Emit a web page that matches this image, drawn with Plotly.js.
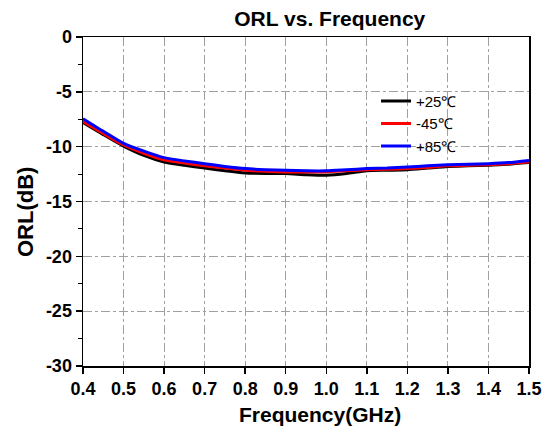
<!DOCTYPE html>
<html>
<head>
<meta charset="utf-8">
<script src="https://cdn.plot.ly/plotly-3.0.1.min.js"></script>
<style>body{margin:0;background:#fff}#chart{width:546px;height:436px}</style>
</head>
<body>
<div id="chart"></div>
<script>
const freq = [0.4,0.45,0.5,0.55,0.6,0.65,0.7,0.75,0.8,0.85,0.9,0.95,1.0,1.05,1.1,1.15,1.2,1.25,1.3,1.35,1.4,1.45,1.5];
const orl25 = [-7.8,-8.9,-9.95,-10.8,-11.4,-11.7,-11.95,-12.2,-12.4,-12.45,-12.45,-12.55,-12.6,-12.45,-12.2,-12.15,-12.1,-11.95,-11.8,-11.75,-11.7,-11.6,-11.45];
const orlM45 = [-7.7,-8.8,-9.85,-10.6,-11.2,-11.5,-11.75,-11.95,-12.15,-12.25,-12.3,-12.3,-12.3,-12.2,-12.1,-12.05,-12.0,-11.9,-11.75,-11.7,-11.65,-11.55,-11.4];
const orl85 = [-7.45,-8.6,-9.7,-10.4,-11.0,-11.3,-11.55,-11.8,-12.0,-12.1,-12.15,-12.2,-12.2,-12.1,-12.0,-11.95,-11.85,-11.75,-11.65,-11.6,-11.55,-11.45,-11.25];
const seriesNames = ['+25℃','-45℃','+85℃'];
const xTicks = [0.4,0.5,0.6,0.7,0.8,0.9,1.0,1.1,1.2,1.3,1.4,1.5];
const xTickText = ['0.4','0.5','0.6','0.7','0.8','0.9','1.0','1.1','1.2','1.3','1.4','1.5'];
const yTicks = [0,-5,-10,-15,-20,-25,-30];
const yTickText = ['0','-5','-10','-15','-20','-25','-30'];
const titleText = 'ORL vs. Frequency';
const xTitle = 'Frequency(GHz)';
const yTitle = 'ORL(dB)';

const colors = ['#000000','#ff0000','#0000ff'];
const ys = [orl25, orlM45, orl85];
const traces = ys.map((y,i)=>({
  x: freq, y: y, name: seriesNames[i], type:'scatter', mode:'lines',
  line:{color:colors[i], width:3, shape:'spline', smoothing:0.6}
}));

const FF = 'Liberation Sans, Arial, sans-serif';
const tickFont = {family:FF, size:18, color:'#000'};
const bold = s => '<b>' + s + '</b>';
const W = 546, H = 436;
const layout = {
  width:W, height:H,
  margin:{l:83, r:17, t:37, b:70},
  paper_bgcolor:'#fff', plot_bgcolor:'#fff',
  title:{text:bold(titleText), x:0.604, xanchor:'center', y:0.958, yanchor:'middle',
    font:{family:FF, size:21, color:'#000'}},
  xaxis:{range:[0.4,1.5], tickvals:xTicks, ticktext:xTickText.map(bold), tickfont:tickFont,
    ticks:'outside', ticklen:6, tickwidth:1.5, tickcolor:'#000',
    showline:true, linecolor:'#000', linewidth:1.5, mirror:true,
    showgrid:true, gridcolor:'#a0a0a0', gridwidth:1, griddash:'dashdot', zeroline:false},
  yaxis:{range:[-30,0], tickvals:yTicks, ticktext:yTickText.map(bold), tickfont:tickFont,
    ticks:'outside', ticklen:6, tickwidth:1.5, tickcolor:'#000',
    minor:{dtick:2.5, ticks:'outside', ticklen:4, tickwidth:1, tickcolor:'#000', showgrid:false},
    showline:true, linecolor:'#000', linewidth:1.5, mirror:true,
    showgrid:true, gridcolor:'#a0a0a0', gridwidth:1, griddash:'dashdot', zeroline:false},
  annotations:[
    {text:bold(xTitle), xref:'paper', yref:'paper', x:(320-83)/446, y:-(414-366)/329,
     xanchor:'center', yanchor:'middle', showarrow:false, font:{family:FF, size:21, color:'#000'}},
    {text:bold(yTitle), xref:'paper', yref:'paper', x:-(83-25)/446, y:(366-212)/329,
     xanchor:'center', yanchor:'middle', textangle:-90, showarrow:false, font:{family:FF, size:22, color:'#000'}}
  ],
  legend:{x:0.657, y:0.855, xanchor:'left', yanchor:'top', bgcolor:'rgba(0,0,0,0)', borderwidth:0,
    font:{family:FF, size:15, color:'#000'}, tracegroupgap:0},
  showlegend:true
};
Plotly.newPlot('chart', traces, layout, {staticPlot:true, displayModeBar:false});
</script>
</body>
</html>
